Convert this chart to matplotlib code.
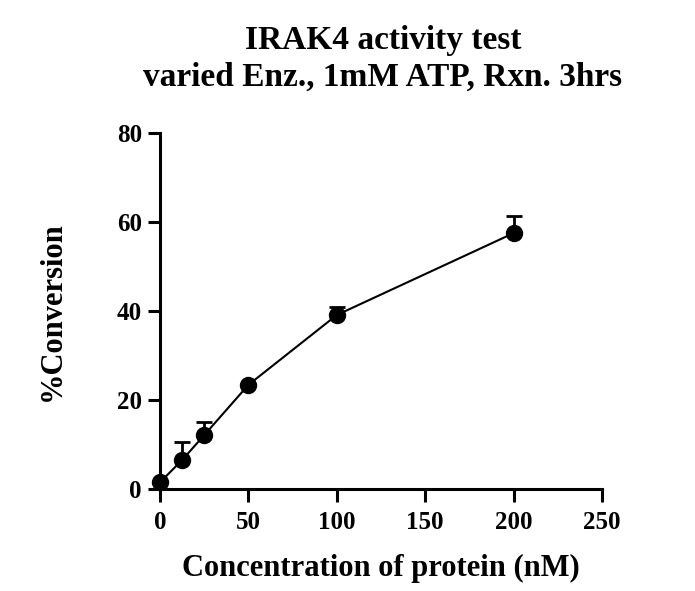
import numpy as np
from matplotlib import pyplot as plt

# data
conc = [0, 12.5, 25, 50, 100, 200]
conversion = [1.5, 6.5, 12.1, 23.4, 39.1, 57.5]
err = [0.0, 4.1, 3.0, 0.0, 1.8, 3.8]

title = "IRAK4 activity test\nvaried Enz., 1mM ATP, Rxn. 3hrs"
xlabel = "Concentration of protein (nM)"
ylabel = "%Conversion"
xticks = [0, 50, 100, 150, 200, 250]
yticks = [0, 20, 40, 60, 80]


def main():
    plt.rcParams['font.family'] = ['Liberation Serif', 'DejaVu Serif']
    plt.rcParams['font.weight'] = 'bold'

    fig = plt.figure(figsize=(6.95, 5.91), dpi=100)
    ax = fig.add_axes([160 / 695, 1 - 489 / 591, 442 / 695, 356 / 591])

    x = np.array(conc)
    y = np.array(conversion)
    e = np.array(err)
    has_err = e > 0

    # only upper error bars, skip points without error
    ax.errorbar(x[has_err], y[has_err], yerr=[np.zeros(has_err.sum()), e[has_err]],
                fmt='none', ecolor='black', elinewidth=2, capsize=5.5,
                capthick=2, clip_on=False, zorder=2)
    ax.plot(x, y, '-', color='black', linewidth=1.5, zorder=3, clip_on=False)
    ax.plot(x, y, 'o', color='black', markersize=11.5, zorder=4, clip_on=False)

    ax.set_xlim(0, 250)
    ax.set_ylim(0, 80)
    ax.set_xticks(xticks)
    ax.set_yticks(yticks)
    ax.spines['top'].set_visible(False)
    ax.spines['right'].set_visible(False)
    for s in ['left', 'bottom']:
        ax.spines[s].set_linewidth(2.2)
    ax.tick_params(width=2.2, length=9, labelsize=18, pad=4)
    ax.tick_params(axis='x', pad=7)
    for lab in ax.get_xticklabels() + ax.get_yticklabels():
        lab.set_fontweight('bold')

    ax.set_xlabel(xlabel, fontsize=22, fontweight='bold')
    ax.set_ylabel(ylabel, fontsize=22, fontweight='bold')
    ax.xaxis.set_label_coords(0.5, (489 - 568) / 356)
    ax.xaxis.label.set_va('center')
    ax.yaxis.set_label_coords((52 - 160) / 442, 0.5)
    ax.yaxis.label.set_va('center')

    fig.text(383 / 695, 1 - 59 / 591, title, ha='center', va='center',
             fontsize=24, fontweight='bold', linespacing=1.22)

    fig.savefig('out.png', dpi=100)


if __name__ == '__main__':
    main()
